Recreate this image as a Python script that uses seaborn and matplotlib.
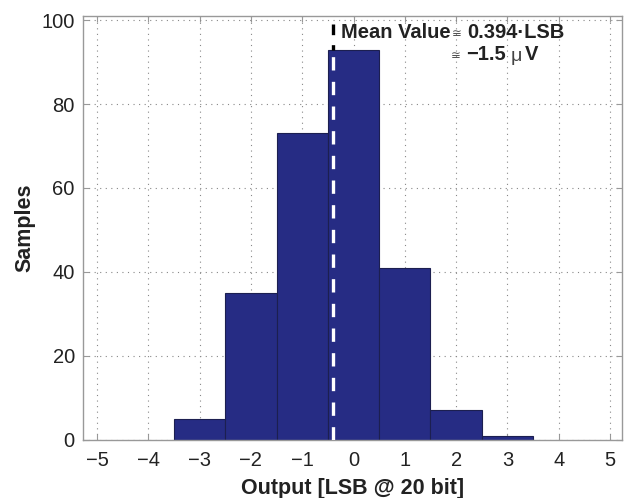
import matplotlib
matplotlib.use("Agg")
import matplotlib.pyplot as plt
import seaborn as sns
import numpy as np
import pandas as pd

# Histogram of converter output codes
bin_centers = [-3, -2, -1, 0, 1, 2, 3]
sample_counts = [5, 35, 73, 93, 41, 7, 1]
bin_edges = [-3.5, -2.5, -1.5, -0.5, 0.5, 1.5, 2.5, 3.5]
mean_value = -0.394
x_ticks = [-5, -4, -3, -2, -1, 0, 1, 2, 3, 4, 5]
y_ticks = [0, 20, 40, 60, 80, 100]

sns.set_theme(style="white")
plt.rcParams["font.family"] = ["Liberation Sans", "DejaVu Sans"]

df = pd.DataFrame({"output": bin_centers, "count": sample_counts})

fig = plt.figure(figsize=(6.25, 4.98), dpi=100)
ax = fig.add_axes([0.133, 0.117, 0.862, 0.851])

sns.histplot(data=df, x="output", weights="count", bins=bin_edges,
             color="#262c84", edgecolor="#1c1f50", linewidth=0.8,
             alpha=1.0, ax=ax, zorder=2)

# mean marker: white dashes over the bar, black above it
top_bar = max(sample_counts)
ax.plot([mean_value, mean_value], [0, top_bar], color="white", lw=2.4,
        dashes=(4, 3.4), zorder=3)
ax.plot([mean_value, mean_value], [99, top_bar], color="black", lw=2.4,
        dashes=(3.2, 3.0), zorder=3)

txt = "#222222"
ax.text(-0.24, 97.1, "Mean Value", fontsize=14.5, fontweight="bold",
        ha="left", va="center", color=txt)
ax.text(2.02, 96.9, "≅", fontsize=8.5, ha="center", va="center", color="#555555",
        family=["DejaVu Sans"])
ax.text(2.22, 97.1, "0.394·LSB", fontsize=14.5, fontweight="bold",
        ha="left", va="center", color=txt)
ax.text(1.99, 91.5, "≅", fontsize=8.5, ha="center", va="center", color="#555555",
        family=["DejaVu Sans"])
ax.text(2.2, 91.7, "−1.5", fontsize=14.5, fontweight="bold",
        ha="left", va="center", color=txt)
ax.text(3.06, 91.4, "μ", fontsize=14, ha="left", va="center", color="#444444")
ax.text(3.33, 91.7, "V", fontsize=14.5, fontweight="bold", ha="left",
        va="center", color=txt)

ax.set_xlim(-5.27, 5.23)
ax.set_ylim(0, 101)
ax.set_xticks(x_ticks)
ax.set_xticklabels([str(t).replace("-", "−") for t in x_ticks])
ax.set_yticks(y_ticks)

ax.grid(True, linestyle=(0, (1, 4)), color="#888888", linewidth=0.8, zorder=0)
ax.set_axisbelow(True)
ax.tick_params(axis="both", direction="in", length=4, width=0.8,
               labelsize=14.5, colors="#999999", labelcolor=txt,
               top=True, right=True, bottom=True, left=True)
ax.tick_params(axis="x", pad=8)
ax.tick_params(axis="y", pad=6)
for s in ax.spines.values():
    s.set_color("#999999")
    s.set_linewidth(1.0)
    s.set_visible(True)

ax.set_xlabel("Output [LSB @ 20 bit]", fontsize=15.5, fontweight="bold",
              color=txt, labelpad=6)
ax.set_ylabel("Samples", fontsize=15.5, fontweight="bold", color=txt,
              labelpad=4)

fig.savefig("out.png", dpi=100)
